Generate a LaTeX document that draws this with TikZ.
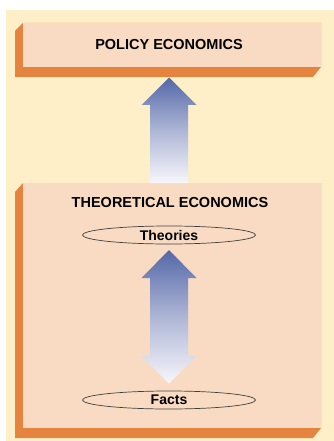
\documentclass[tikz,border=0pt]{standalone}
\usepackage{fontspec}
\setmainfont{Liberation Sans}
\usetikzlibrary{shapes.geometric,calc}
\definecolor{cream}{HTML}{FEEFC9}
\definecolor{face}{HTML}{F8DBC2}
\definecolor{orng}{HTML}{E4843F}
\definecolor{arrblue}{HTML}{5468A8}
\definecolor{arrwhite}{HTML}{F7F6FB}
\tikzset{
  facebox/.style={fill=face, draw=none, inner sep=0pt, anchor=north west},
  headtxt/.style={font=\fontsize{14.5}{16}\selectfont\bfseries, inner sep=0pt},
  ovalnode/.style={ellipse, draw=black!75, line width=0.7pt, fill=face, minimum width=173pt, minimum height=18pt, inner sep=0pt, font=\fontsize{14}{16}\selectfont\bfseries},
  bigarrow/.style={top color=arrblue, bottom color=arrwhite, middle color=arrblue!45!arrwhite, draw=none}
}
\begin{document}
\begin{tikzpicture}[x=1pt,y=-1pt]
\useasboundingbox (0,0) rectangle (334,441);
\fill[white] (0,0) rectangle (334,441);
\fill[cream] (6,10) rectangle (334,441);
% policy box
\fill[orng] (23,23) -- (15,31) -- (15,77) -- (313,77) -- (321,67) -- (321,23) -- cycle;
\node[facebox, minimum width=298pt, minimum height=44pt] (policy) at (23,23) {};
\node[headtxt] (policytxt) at (169,45) {POLICY ECONOMICS};
% theoretical box
\fill[orng] (23,183) -- (15,192) -- (15,438) -- (313,438) -- (321,428) -- (321,183) -- cycle;
\node[facebox, minimum width=298pt, minimum height=245pt] (theory) at (23,183) {};
\node[headtxt] (theorytxt) at (170,203) {THEORETICAL ECONOMICS};
% ovals
\node[ovalnode] (theories) at (169,235) {Theories};
\node[ovalnode] (facts) at (169,400) {Facts};
% up arrow between boxes
\shade[bigarrow] (169,77.5) -- (196.5,105) -- (188,105) -- (188,183) -- (150,183) -- (150,105) -- (141.5,105) -- cycle;
% double arrow
\shade[bigarrow] (169,250) -- (196.5,278) -- (188,278) -- (188,356) -- (196.5,356) -- (169,383.5) -- (141.5,356) -- (150,356) -- (150,278) -- (141.5,278) -- cycle;
\end{tikzpicture}
\end{document}
